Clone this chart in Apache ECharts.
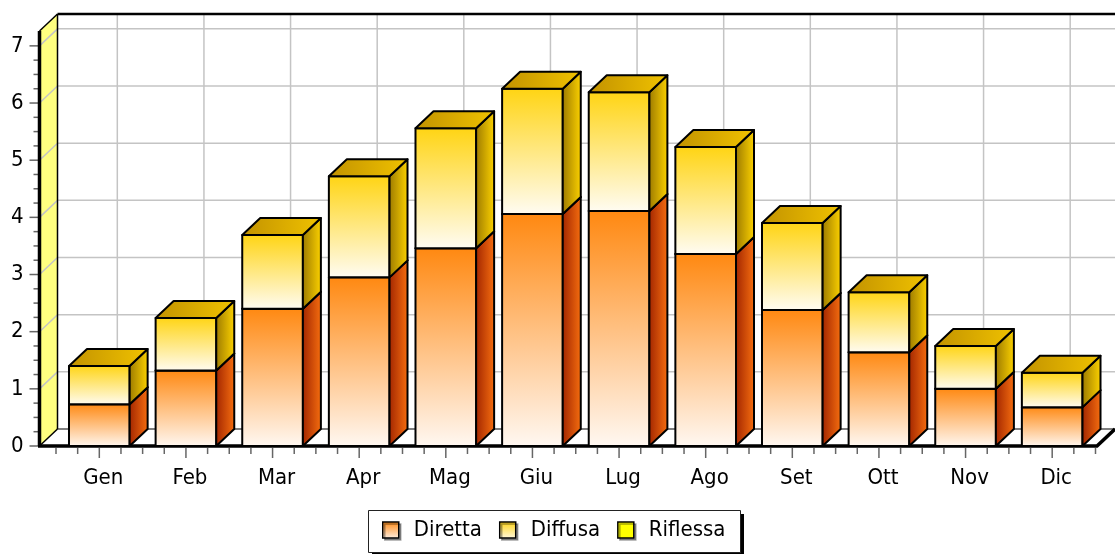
<!DOCTYPE html>
<html>
<head>
<meta charset="utf-8">
<script src="https://cdn.jsdelivr.net/npm/echarts@6/dist/echarts.min.js"></script>
<style>
  html, body { margin: 0; padding: 0; background: #fff; }
  #chart { width: 1115px; height: 554px; }
</style>
</head>
<body>
<div id="chart"></div>
<script>
// dati mensili (kWh/m2 giorno)
var months = ['Gen', 'Feb', 'Mar', 'Apr', 'Mag', 'Giu', 'Lug', 'Ago', 'Set', 'Ott', 'Nov', 'Dic'];
var diretta = [0.73, 1.32, 2.40, 2.95, 3.46, 4.06, 4.11, 3.36, 2.38, 1.64, 1.00, 0.68];
var diffusa = [0.67, 0.92, 1.29, 1.77, 2.10, 2.19, 2.08, 1.87, 1.52, 1.05, 0.75, 0.60];
var riflessa = [0, 0, 0, 0, 0, 0, 0, 0, 0, 0, 0, 0];
var yTicks = [0, 1, 2, 3, 4, 5, 6, 7];

var Y_MAX = 7.26;
var DX = 18, DY = -17;       // profondita 3D
var AXIS_GAP = 16.5;         // margine tra asse e prima categoria
var FONT = '"DejaVu Sans Condensed", "DejaVu Sans", sans-serif';
var FONT_SIZE = 22;

var grad = echarts.graphic.LinearGradient;

// righe impilate [indice, base, cima]
function stackRows(vals, below) {
  return vals.map(function (v, i) { return [i, below[i], below[i] + v]; });
}
var base0 = months.map(function () { return 0; });
var rowsDiretta = stackRows(diretta, base0);
var rowsDiffusa = stackRows(diffusa, rowsDiretta.map(function (r) { return r[2]; }));
var rowsRiflessa = stackRows(riflessa, rowsDiffusa.map(function (r) { return r[2]; }));

var palette = {
  Diretta: {
    front: ['#FF8810', '#FFF8F2'],
    side: ['#A02400', '#F87010'],
    top: ['#D86000', '#FF9A30']
  },
  Diffusa: {
    front: ['#FFD412', '#FFFCF3'],
    side: ['#9A7800', '#FFD400'],
    top: ['#C29200', '#F0C200']
  },
  Riflessa: {
    front: ['#FFFF00', '#FFFFD0'],
    side: ['#B0B000', '#FFFF00'],
    top: ['#D8D800', '#FFFF40']
  }
};

function seg(pts, fill) {
  return {
    type: 'polygon',
    shape: { points: pts },
    style: { fill: fill, stroke: '#000', lineWidth: 2, lineJoin: 'round' }
  };
}

function barRenderer(name) {
  var c = palette[name];
  return function (params, api) {
    var i = api.value(0), lo = api.value(1), hi = api.value(2);
    if (!(hi > lo)) return { type: 'group', children: [] };
    var pLo = api.coord([i, lo]), pHi = api.coord([i, hi]);
    var w = api.size([1, 0])[0] * 0.7;
    var x0 = pLo[0] - w / 2, x1 = pLo[0] + w / 2;
    var yb = pLo[1], yt = pHi[1];
    return {
      type: 'group',
      children: [
        seg([[x0, yb], [x1, yb], [x1, yt], [x0, yt]],
          new grad(0, 0, 0, 1, [{ offset: 0, color: c.front[0] }, { offset: 1, color: c.front[1] }])),
        seg([[x1, yb], [x1 + DX, yb + DY], [x1 + DX, yt + DY], [x1, yt]],
          new grad(0, 0, 1, 0, [{ offset: 0, color: c.side[0] }, { offset: 1, color: c.side[1] }])),
        seg([[x0, yt], [x0 + DX, yt + DY], [x1 + DX, yt + DY], [x1, yt]],
          new grad(0, 0, 1, 0, [{ offset: 0, color: c.top[0] }, { offset: 1, color: c.top[1] }]))
      ]
    };
  };
}

function ln(x1, y1, x2, y2, color, width) {
  return {
    type: 'line',
    shape: { x1: x1, y1: y1, x2: x2, y2: y2 },
    style: { stroke: color, lineWidth: width }
  };
}

// pareti, griglia, assi e tacche
function renderFrame(params, api) {
  var band = api.size([1, 0])[0];
  var o = api.coord([0, 0]);
  var xL = o[0] - band / 2 - AXIS_GAP;
  var yB = o[1];
  var yT = api.coord([0, Y_MAX])[1];
  var W = api.getWidth();
  var xR = W - DX;
  var els = [];

  els.push({ type: 'polygon', shape: { points: [[xL + DX, yT + DY], [W + 2, yT + DY], [W + 2, yB + DY], [xL + DX, yB + DY]] },
    style: { fill: '#fff' } });
  els.push({ type: 'polygon', shape: { points: [[xL, yB], [xL + DX, yB + DY], [xL + DX, yT + DY], [xL, yT]] },
    style: { fill: '#FFFF80' } });

  yTicks.forEach(function (v) {
    if (v === 0) return;
    var y = api.coord([0, v])[1];
    els.push(ln(xL, y, xL + DX, y + DY, '#C4C4C4', 1.5));
    els.push(ln(xL + DX, y + DY, W + 2, y + DY, '#C4C4C4', 1.5));
  });
  months.forEach(function (m, i) {
    var x = api.coord([i, 0])[0] + DX;
    els.push(ln(x, yT + DY, x, yB + DY, '#C4C4C4', 1.5));
  });

  els.push(ln(xL + DX, yT + DY, W + 2, yT + DY, '#000', 2.5));
  els.push(ln(xL, yT, xL + DX, yT + DY, '#000', 1.5));
  els.push(ln(xL + DX, yT + DY, xL + DX, yB + DY, '#000', 1.5));
  els.push(ln(xL, yB, xL + DX, yB + DY, '#000', 1.5));
  els.push(ln(xL + DX, yB + DY, W + 2, yB + DY, '#000', 1.2));

  // tacche asse y
  yTicks.forEach(function (v, k) {
    var y = api.coord([0, v])[1];
    els.push(ln(xL - 10, y, xL, y, '#666', 1.5));
    if (k < yTicks.length - 1) {
      var y2 = api.coord([0, yTicks[k + 1]])[1];
      for (var s = 1; s < 4; s++) {
        var ym = y + (y2 - y) * s / 4;
        els.push(ln(xL - 6, ym, xL, ym, '#666', 1.5));
      }
    }
  });
  // tacche asse x
  months.forEach(function (m, i) {
    var cx = api.coord([i, 0])[0];
    els.push(ln(cx, yB + 2, cx, yB + 12, '#666', 1.5));
    [-0.5, -0.25, 0.25].forEach(function (f) {
      els.push(ln(cx + f * band, yB + 2, cx + f * band, yB + 8, '#666', 1.5));
    });
    if (i === months.length - 1) {
      els.push(ln(cx + 0.5 * band, yB + 2, cx + 0.5 * band, yB + 8, '#666', 1.5));
    }
  });

  els.push(ln(xL, yT, xL, yB, '#000', 3.5));
  els.push({ type: 'polyline', shape: { points: [[xL - 1.5, yB], [xR, yB], [W, yB + DY]] },
    style: { stroke: '#000', lineWidth: 3.5, fill: null } });

  return { type: 'group', children: els };
}

var chart = echarts.init(document.getElementById('chart'));

var legendIconStyle = function (color) {
  return { color: color, borderColor: '#000', borderWidth: 1.5, shadowColor: 'rgba(0,0,0,0.35)', shadowOffsetX: 2, shadowOffsetY: 2 };
};

var option = {
  animation: false,
  grid: { left: 56, right: 19.5, top: 31, bottom: 108 },
  graphic: [
    { type: 'rect', left: 372, top: 514, shape: { width: 372, height: 42 }, style: { fill: '#000' }, silent: true },
    { type: 'rect', left: 368, top: 510, shape: { x: 0.5, y: 0.5, width: 372, height: 42 }, style: { fill: '#fff', stroke: '#222', lineWidth: 1 }, silent: true }
  ],
  xAxis: {
    type: 'category',
    data: months,
    axisLine: { show: false },
    axisTick: { show: false },
    splitLine: { show: false },
    axisLabel: { margin: 21, fontFamily: FONT, fontSize: FONT_SIZE, color: '#000', padding: [0, 0, 0, 8] }
  },
  yAxis: {
    type: 'value',
    min: 0,
    max: Y_MAX,
    interval: 1,
    offset: AXIS_GAP,
    axisLine: { show: false },
    axisTick: { show: false },
    splitLine: { show: false },
    axisLabel: { margin: 16, fontFamily: FONT, fontSize: FONT_SIZE, color: '#000', showMaxLabel: false }
  },
  legend: {
    left: 368,
    top: 509,
    z: 10,
    padding: [10, 12, 10, 14],
    itemGap: 17,
    itemWidth: 16,
    itemHeight: 16,
    textStyle: { fontFamily: FONT, fontSize: FONT_SIZE, color: '#000', padding: [0, 0, 0, 10] },
    data: [
      { name: 'Diretta', icon: 'rect', itemStyle: legendIconStyle(new grad(0, 0, 0, 1, [{ offset: 0, color: '#FF8810' }, { offset: 1, color: '#FFF0E4' }])) },
      { name: 'Diffusa', icon: 'rect', itemStyle: legendIconStyle(new grad(0, 0, 0, 1, [{ offset: 0, color: '#FFD412' }, { offset: 1, color: '#FFF8E0' }])) },
      { name: 'Riflessa', icon: 'rect', itemStyle: legendIconStyle('#FFFF00') }
    ]
  },
  series: [
    {
      type: 'custom',
      name: 'frame',
      silent: true,
      z: 1,
      renderItem: renderFrame,
      data: [[0, 0]]
    },
    { type: 'custom', name: 'Diretta', z: 2, renderItem: barRenderer('Diretta'), data: rowsDiretta, encode: { x: 0, y: [1, 2] } },
    { type: 'custom', name: 'Diffusa', z: 2, renderItem: barRenderer('Diffusa'), data: rowsDiffusa, encode: { x: 0, y: [1, 2] } },
    { type: 'custom', name: 'Riflessa', z: 2, renderItem: barRenderer('Riflessa'), data: rowsRiflessa, encode: { x: 0, y: [1, 2] } }
  ]
};

chart.setOption(option);
</script>
</body>
</html>
